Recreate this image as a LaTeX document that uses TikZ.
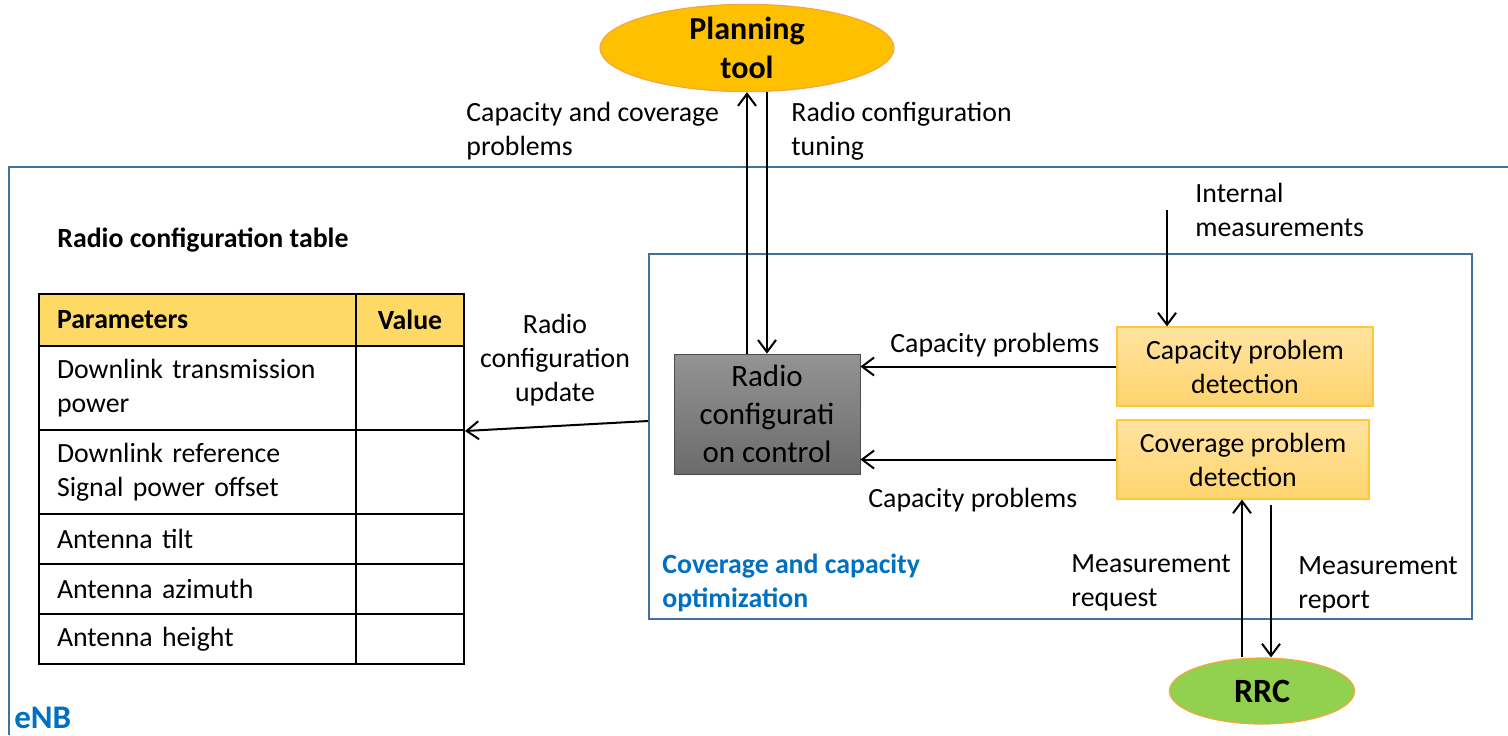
\documentclass[tikz,border=0pt]{standalone}
\usepackage{fontspec}
\setmainfont{Carlito}
\usepackage{xcolor}
\usetikzlibrary{positioning, arrows.meta, shapes.geometric}

\definecolor{frameblue}{HTML}{41719C}
\definecolor{textblue}{HTML}{0070C0}
\definecolor{planfill}{HTML}{FFC000}
\definecolor{rrcfill}{HTML}{92D050}
\definecolor{ovalline}{HTML}{F4A640}
\definecolor{dettop}{HTML}{FFE3A0}
\definecolor{detbot}{HTML}{FFD46E}
\definecolor{detline}{HTML}{FFC83A}
\definecolor{headfill}{HTML}{FFD966}

\begin{document}
\begin{tikzpicture}[
    x=0.5pt, y=-0.5pt,
    every node/.style={font=\fontsize{13.9}{17}\selectfont},
    lbl/.style={inner sep=0pt, align=left, anchor=west},
    oval/.style={ellipse, draw=ovalline, line width=0.6pt, inner sep=0pt, align=center, font=\fontsize{16}{19.5}\selectfont\bfseries},
    detect/.style={draw=detline, top color=dettop, bottom color=detbot, line width=0.6pt, minimum height=39.5pt, align=center, inner sep=0pt},
    cell/.style={draw=black, line width=1pt, anchor=north west, inner xsep=9pt, inner ysep=0pt, text width=140.5pt, align=left},
    valcell/.style={draw=black, line width=1pt, anchor=north west, inner sep=0pt, minimum width=54pt},
    arrow/.style={-{Straight Barb[length=6pt, width=9pt]}, line width=1pt}
]
\useasboundingbox (0,0) rectangle (1508,735);

% Frames
\draw[frameblue, line width=1pt] (9,735) -- (9,167) -- (1508,167);
\node[draw=frameblue, line width=1pt, anchor=north west, minimum width=411.5pt, minimum height=182.5pt, inner sep=0pt] (cco) at (648,253) {};

% Nodes
\node[oval, fill=planfill, minimum width=147pt, minimum height=40pt] (plan) at (747,48) {Planning\\tool};
\node[oval, fill=rrcfill, minimum width=92.5pt, minimum height=33pt, font=\fontsize{17}{19.5}\selectfont\bfseries] (rrc) at (1262,691) {RRC};

\node[draw=black!70, top color=black!42, bottom color=black!58, minimum width=93pt, minimum height=60pt, inner sep=0pt, align=center, font=\fontsize{15.5}{19}\selectfont] (ctrl) at (767,414) {Radio\\configurati\\on control};

\node[detect, minimum width=128pt] (capd) at (1245,366.5) {Capacity problem\\detection};
\node[detect, minimum width=126pt] (covd) at (1243,459.5) {Coverage problem\\detection};

% Table
\node[font=\fontsize{13.9}{17}\selectfont\bfseries, lbl] (tabtitle) at (57,240) {Radio configuration table};
\node[cell, fill=headfill, minimum height=26pt, font=\fontsize{13.9}{17}\selectfont\bfseries] (p0) at (38,293) {Parameters};
\node[valcell, fill=headfill, minimum height=26pt, font=\fontsize{13.9}{17}\selectfont\bfseries] (v0) at (355,293) {Value};
\node[cell, minimum height=42pt] (p1) at (38,345) {Downlink transmission\\power};
\node[valcell, minimum height=42pt] (v1) at (355,345) {};
\node[cell, minimum height=42pt] (p2) at (38,429) {Downlink reference\\Signal power offset};
\node[valcell, minimum height=42pt] (v2) at (355,429) {};
\node[cell, minimum height=25pt] (p3) at (38,513) {Antenna tilt};
\node[valcell, minimum height=25pt] (v3) at (355,513) {};
\node[cell, minimum height=25pt] (p4) at (38,563) {Antenna azimuth};
\node[valcell, minimum height=25pt] (v4) at (355,563) {};
\node[cell, minimum height=25pt] (p5) at (38,613) {Antenna height};
\node[valcell, minimum height=25pt] (v5) at (355,613) {};

% Labels
\node[lbl] (lcapcov) at (466,131) {Capacity and coverage\\problems};
\node[lbl] (ltuning) at (791,131) {Radio configuration\\tuning};
\node[lbl] (linternal) at (1195,210) {Internal\\measurements};
\node[lbl] (lcap1) at (890,345) {Capacity problems};
\node[lbl] (lcap2) at (868,500) {Capacity problems};
\node[inner sep=0pt, align=center] (lupdate) at (555,360) {Radio\\configuration\\update};
\node[lbl] (lreq) at (1071,583) {Measurement\\request};
\node[lbl] (lrep) at (1298,584.5) {Measurement\\report};
\node[lbl, text=textblue, font=\fontsize{13.9}{17}\selectfont\bfseries] (lcco) at (662,583) {Coverage and capacity\\optimization};
\node[lbl, text=textblue, font=\fontsize{16.5}{17}\selectfont\bfseries] (lenb) at (14,718) {eNB};

\coordinate (intm) at (1167,210);
\coordinate (upd) at (648,421);

% Arrows
\draw[arrow] (plan.south |- ctrl.north) -- (plan.south);
\draw[arrow] (ctrl.north |- plan.south) -- (ctrl.north);
\draw[arrow] (intm) -- (intm |- capd.north);
\draw[arrow] (capd.west) -- (capd.west -| ctrl.east);
\draw[arrow] (covd.west) -- (covd.west -| ctrl.east);
\draw[arrow] (upd) -- (v1.south east);
\draw[arrow] ([xshift=-10pt]rrc.north) -- ([xshift=-10pt]rrc.north |- covd.south);
\draw[arrow] ([xshift=4.5pt, yshift=-2.5pt]rrc.north |- covd.south) -- ([xshift=4.5pt]rrc.north);

\end{tikzpicture}
\end{document}
